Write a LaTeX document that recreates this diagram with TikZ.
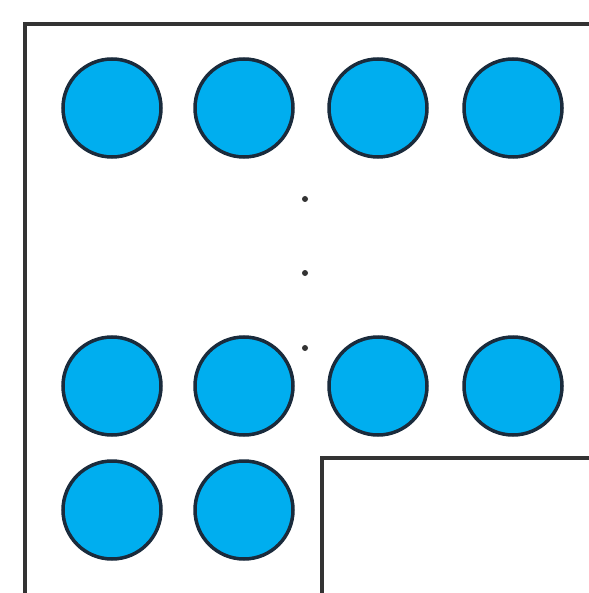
\documentclass[tikz,border=0pt]{standalone}
\begin{document}
\begin{tikzpicture}[x=1pt,y=-1pt,
  ball/.style={circle,draw=ballline,fill=ballfill,line width=3.5pt,minimum size=98pt,inner sep=0pt},
  vdot/.style={circle,fill=dotcol,minimum size=6pt,inner sep=0pt},
  frame/.style={draw=framecol,line width=4pt}]
\definecolor{ballfill}{HTML}{00AEEF}
\definecolor{ballline}{HTML}{1A2B3C}
\definecolor{dotcol}{HTML}{333333}
\definecolor{framecol}{HTML}{333333}
\useasboundingbox[fill=white] (0,0) rectangle (588,593);
% outer frame
\draw[frame] (25,600) -- (25,24) -- (600,24);
% inner corner
\draw[frame] (322,600) -- (322,458) -- (600,458);
% top row
\node[ball] (a1) at (112,108) {};
\node[ball] (a2) at (244,108) {};
\node[ball] (a3) at (378,108) {};
\node[ball] (a4) at (513,108) {};
% second row
\node[ball] (b1) at (112,386) {};
\node[ball] (b2) at (244,386) {};
\node[ball] (b3) at (378,386) {};
\node[ball] (b4) at (513,386) {};
% third row
\node[ball] (c1) at (112,510) {};
\node[ball] (c2) at (244,510) {};
% dots
\node[vdot] (d1) at (305,199) {};
\node[vdot] (d2) at (305,273) {};
\node[vdot] (d3) at (305,348) {};
\end{tikzpicture}
\end{document}
